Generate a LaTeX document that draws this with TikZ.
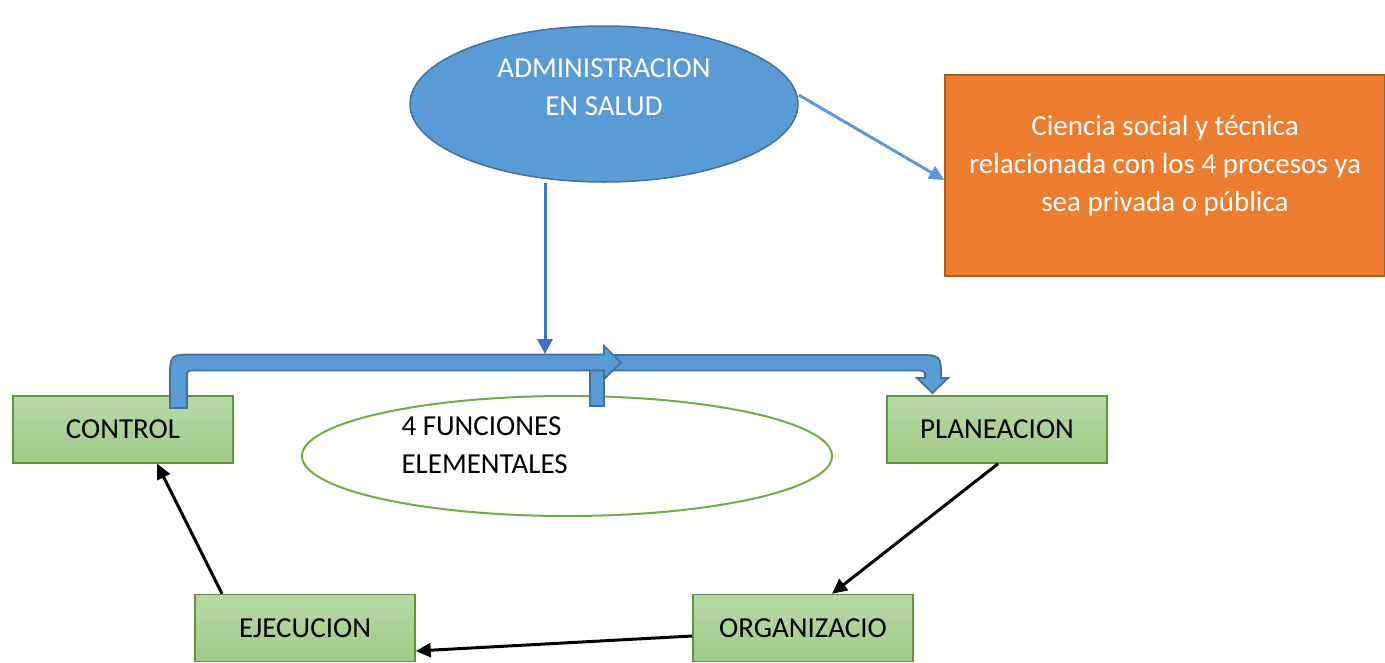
\documentclass[tikz,border=0pt]{standalone}
\usepackage{fontspec}
\setmainfont{Carlito}
\usetikzlibrary{arrows.meta, shapes.geometric}

\definecolor{azul}{HTML}{5B9BD5}
\definecolor{azulborde}{HTML}{41719C}
\definecolor{azuloscuro}{HTML}{4472C4}
\definecolor{naranja}{HTML}{ED7D31}
\definecolor{naranjaborde}{HTML}{AE5A21}
\definecolor{verde}{HTML}{70AD47}
\definecolor{verdearriba}{HTML}{B8D9A8}
\definecolor{verdeabajo}{HTML}{A0CB86}

\begin{document}
\begin{tikzpicture}[x = 1pt, y = -1pt,
	texto/.style = {font = \fontsize{29}{38}\selectfont},
	caja/.style = {texto, draw = verde!85!black, line width = 1.5pt, top color = verdearriba, bottom color = verdeabajo, minimum width = 220pt, minimum height = 67pt, inner sep = 0pt},
	flecha/.style = {line width = 3pt, -{Triangle[length = 15pt, width = 14pt]}},
	curva/.style = {fill = azul, draw = azulborde, line width = 1.8pt, line join = miter}]
	\useasboundingbox (0, 0) rectangle (1385, 662);

	\node[draw = azulborde, fill = azul, line width = 1.5pt, ellipse, minimum width = 388pt, minimum height = 156pt] (adm) at (604, 104){};
	\node[texto, white, align = center] (admtexto) at (604, 87){ADMINISTRACION\\EN SALUD};

	\node[draw = naranjaborde, fill = naranja, line width = 1.5pt, minimum width = 440pt, minimum height = 201pt] (def) at (1165, 175.5){};
	\node[texto, white, align = center] (deftexto) at (1165, 166){Ciencia social y técnica\\relacionada con los 4 procesos ya\\sea privada o pública};

	\node[draw = verde, line width = 2pt, ellipse, minimum width = 530pt, minimum height = 120pt] (fun) at (567, 456){};
	\node[texto, align = left, anchor = west] (funtexto) at (398, 445){4 FUNCIONES\\ELEMENTALES};

	\node[caja] (ctrl) at (123, 429.5){CONTROL};
	\node[caja] (plan) at (997, 429.5){PLANEACION};
	\node[caja] (ejec) at (305, 628){EJECUCION};
	\node[caja] (org) at (803, 628){ORGANIZACIO};

	\draw[curva] (590, 406) -- (590, 355) -- (916, 355) .. controls (941, 355) .. (941, 378) -- (948, 378) -- (932.5, 393) -- (917, 378) -- (925, 378) .. controls (925, 370.5) .. (915, 370.5) -- (604, 370.5) -- (604, 406) -- cycle;
	\draw[curva] (170, 408) -- (170, 379) .. controls (170, 354.5) .. (194, 354.5) -- (604, 354.5) -- (604, 346) -- (621, 362.5) -- (604, 379) -- (604, 370.5) -- (195, 370.5) .. controls (187, 370.5) .. (187, 378) -- (187, 408) -- cycle;

	\coordinate (llegada) at (545, 354);
	\draw[azuloscuro, line width = 3pt, -{Triangle[length = 15pt, width = 15pt]}] ([xshift = -59pt]adm.south) -- (llegada);
	\draw[azul, line width = 3pt, -{Triangle[length = 15pt, width = 14pt]}] ([yshift = 9pt]adm.east) -- ([yshift = -4.5pt]def.west);

	\draw[flecha] ([xshift = 1pt]plan.south) -- ([xshift = 29pt]org.north);
	\draw[flecha] ([yshift = -8pt]org.west) -- ([yshift = -23pt]ejec.east);
	\draw[flecha] ([xshift = -83pt]ejec.north) -- ([xshift = 34pt]ctrl.south);
\end{tikzpicture}
\end{document}
